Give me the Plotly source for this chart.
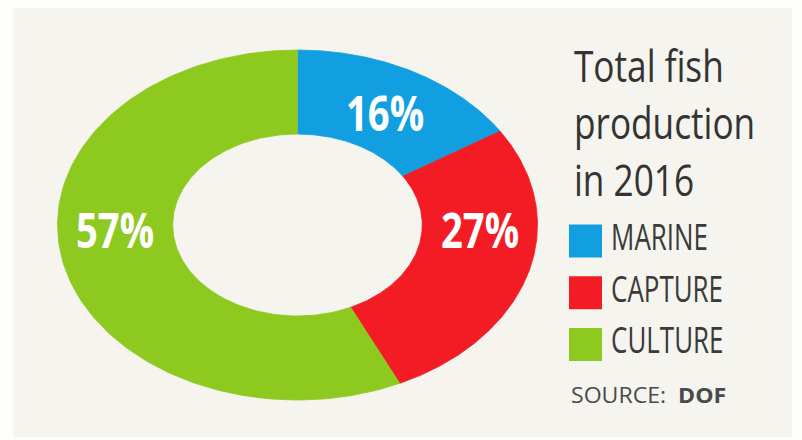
import json
import numpy as np
import plotly.graph_objects as go

# ---------------- data ----------------
categories = ["MARINE", "CAPTURE", "CULTURE"]
shares = [16, 27, 57]
share_labels = ["16%", "27%", "57%"]
title_lines = ["Total fish", "production", "in 2016"]
source_label = "SOURCE:"
source_name = "DOF"

# ---------------- style / layout constants ----------------
W, H = 802, 440
colors = ["#129fe2", "#f31c25", "#8ec920"]
HOLE = 0.52
FONT = "Open Sans, Noto Sans, sans-serif"
TEXT_DARK = "#333333"

# donut ellipse (pixels)
CX, CY, RX, RY = 297.5, 225.0, 240.0, 175.0
PAD = 0.02

# horizontal squeeze of the condensed type (applied after render)
K_LABEL, K_TITLE, K_LEGEND, K_SOURCE = 0.78, 0.80, 0.72, 1.10
LEGEND_TEXT_NUDGE = 4  # px


def px(x):
    return x / W


def py(y):
    return 1 - y / H


fig = go.Figure()
annotations = []
label_idx, title_idx, source_idx = [], [], []

total = float(sum(shares))
start = 0.0
for cat, v, col, lab in zip(categories, shares, colors, share_labels):
    a0 = start / total * 2 * np.pi
    a1 = (start + v) / total * 2 * np.pi
    start += v
    t = np.linspace(a0, a1, 160)
    xo, yo = np.sin(t), np.cos(t)
    xs = np.concatenate([xo, HOLE * xo[::-1], xo[:1]])
    ys = np.concatenate([yo, HOLE * yo[::-1], yo[:1]])
    fig.add_trace(go.Scatter(
        x=xs, y=ys, mode="lines", fill="toself", fillcolor=col,
        line=dict(color=col, width=0.8), hoverinfo="skip", showlegend=False,
        name=cat,
    ))
    # label: centred on slice, snapped to the horizontal axis if the slice spans it
    mid = (a0 + a1) / 2
    for h in (np.pi / 2, 3 * np.pi / 2):
        if a0 < h < a1:
            mid = h
    r = (1 + HOLE) / 2
    label_idx.append(len(annotations))
    annotations.append(dict(
        x=r * np.sin(mid), y=r * np.cos(mid), xref="x", yref="y",
        text=lab, showarrow=False, xanchor="center", yanchor="middle",
        align="center", yshift=-4,
        font=dict(family=FONT, size=49, color="white", weight="bold"),
    ))

# legend swatches on their own small category axis
fig.add_trace(go.Scatter(
    x=[0] * len(categories), y=categories, mode="markers+text",
    marker=dict(symbol="square", size=33, color=colors, line=dict(width=0)),
    text=categories, textposition="middle right",
    textfont=dict(family=FONT, size=36, color="#3a3a3a"),
    xaxis="x2", yaxis="y2", hoverinfo="skip", showlegend=False,
))

# title (one multi-line text)
title_idx.append(len(annotations))
annotations.append(dict(
    x=px(572), y=py(33), xref="paper", yref="paper",
    xanchor="left", yanchor="top", align="left", showarrow=False,
    text="<br>".join(title_lines),
    font=dict(family=FONT, size=44, color=TEXT_DARK),
))

source_idx.append(len(annotations))
annotations.append(dict(
    x=px(569), y=py(394.5), xref="paper", yref="paper",
    xanchor="left", yanchor="middle", align="left", showarrow=False,
    text=f"{source_label}  <b>{source_name}</b>",
    font=dict(family=FONT, size=21, color="#4a4a4a"),
))

# axes for the donut
xd = [px(CX - RX * (1 + PAD)), px(CX + RX * (1 + PAD))]
yd = [py(CY + RY * (1 + PAD)), py(CY - RY * (1 + PAD))]
ax_common = dict(visible=False, fixedrange=True, showgrid=False, zeroline=False)

LEG_X0, LEG_X1, LEG_MX = 568.0, 790.0, 585.5
unit = LEG_MX - LEG_X0
ROW0, ROWSTEP = 241.0, 51.75
leg_top = ROW0 - ROWSTEP / 2
leg_bot = leg_top + ROWSTEP * len(categories)

fig.update_layout(
    width=W, height=H,
    margin=dict(l=0, r=0, t=0, b=0),
    paper_bgcolor="#fdfdfc",
    plot_bgcolor="rgba(0,0,0,0)",
    showlegend=False,
    xaxis=dict(domain=xd, range=[-1 - PAD, 1 + PAD], **ax_common),
    yaxis=dict(domain=yd, range=[-1 - PAD, 1 + PAD], **ax_common),
    xaxis2=dict(domain=[px(LEG_X0), px(LEG_X1)], anchor="y2",
                range=[-1, (LEG_X1 - LEG_X0 - unit) / unit], **ax_common),
    yaxis2=dict(domain=[py(leg_bot), py(leg_top)], anchor="x2", type="category",
                categoryorder="array", categoryarray=categories,
                range=[len(categories) - 0.5, -0.5], **ax_common),
    shapes=[dict(type="rect", xref="paper", yref="paper", layer="below",
                 x0=px(13), x1=px(792), y0=py(437), y1=py(8),
                 fillcolor="#f5f4ee", line=dict(width=0))],
    annotations=annotations,
)

groups = [(label_idx, K_LABEL, 0), (title_idx, K_TITLE, 0), (source_idx, K_SOURCE, 0)]
post_js = """
var gd = document.getElementById('{plot_id}');
function sq(el, k, dx) {
  var a = el.getAttribute('text-anchor') || 'start';
  var o = a === 'middle' ? 'center' : (a === 'end' ? 'right' : 'left');
  el.style.transformBox = 'fill-box';
  el.style.transformOrigin = o + ' center';
  el.style.transform = 'translateX(' + dx + 'px) scaleX(' + k + ')';
}
var groups = GROUPS;
groups.forEach(function(g) {
  g[0].forEach(function(i) {
    gd.querySelectorAll('g.annotation[data-index="' + i + '"] text').forEach(function(el) { sq(el, g[1], g[2]); });
  });
});
gd.querySelectorAll('g.textpoint text').forEach(function(el) { sq(el, KLEG, NUDGE); });
""".replace("GROUPS", json.dumps(groups)).replace("KLEG", str(K_LEGEND)).replace("NUDGE", str(LEGEND_TEXT_NUDGE))

fig.write_html("out.html", config={"displayModeBar": False}, post_script=post_js)
